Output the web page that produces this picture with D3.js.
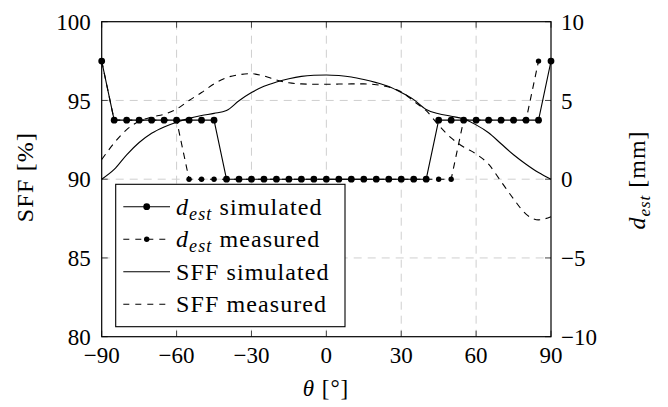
<!DOCTYPE html>
<html>
<head>
<meta charset="utf-8">
<script src="https://cdn.jsdelivr.net/npm/d3@7"></script>
<style>
body { margin: 0; background: #fff; }
svg text { font-family: 'Liberation Serif', 'Times New Roman', serif; fill: #000; }
</style>
</head>
<body>
<svg id="chart" width="668" height="407"></svg>
<script>
// data
var theta = [-90, -85, -80, -75, -70, -65, -60, -55, -50, -45, -40, -35, -30, -25, -20, -15, -10, -5, 0,
	5, 10, 15, 20, 25, 30, 35, 40, 45, 50, 55, 60, 65, 70, 75, 80, 85, 90];

var dSim = [7.5, 3.75, 3.75, 3.75, 3.75, 3.75, 3.75, 3.75, 3.75, 3.75,
	0, 0, 0, 0, 0, 0, 0, 0, 0, 0, 0, 0, 0, 0, 0, 0, 0,
	3.75, 3.75, 3.75, 3.75, 3.75, 3.75, 3.75, 3.75, 3.75, 7.5];

var thetaMeas = [-90, -85, -80, -75, -70, -65, -60, -55, -50, -45, -40, -35, -30, -25, -20, -15, -10, -5, 0,
	5, 10, 15, 20, 25, 30, 35, 40, 45, 50, 55, 60, 65, 70, 75, 80, 85];

var dMeas = [7.5, 3.75, 3.75, 3.75, 3.75, 3.75, 3.75,
	0, 0, 0, 0, 0, 0, 0, 0, 0, 0, 0, 0, 0, 0, 0, 0, 0, 0, 0, 0, 0, 0,
	3.75, 3.75, 3.75, 3.75, 3.75, 3.75, 7.5];

var sffSim = [90.0, 90.62, 91.55, 92.33, 92.92, 93.32, 93.62, 93.86, 94.04, 94.18, 94.36,
	94.98, 95.5, 95.9, 96.17, 96.38, 96.53, 96.6, 96.62, 96.58, 96.49, 96.33, 96.13, 95.88,
	95.5, 95.05, 94.42, 94.15, 94.0, 93.82, 93.45, 92.95, 92.25, 91.55, 90.95, 90.42, 90.0];

var sffMeas = [91.25, 92.3, 93.15, 93.68, 93.95, 94.12, 94.45, 95.0, 95.5, 96.05, 96.45,
	96.63, 96.7, 96.55, 96.3, 96.12, 96.05, 96.03, 96.03, 96.04, 96.05, 96.05, 96.0, 95.85,
	95.55, 94.95, 94.35, 93.42, 92.62, 92.05, 91.6, 90.95, 89.85, 88.75, 87.78, 87.42, 87.62];

var xTicks = [-90, -60, -30, 0, 30, 60, 90];
var sffTicks = [80, 85, 90, 95, 100];
var dTicks = [-10, -5, 0, 5, 10];

var legendLabels = ['simulated', 'measured', 'SFF simulated', 'SFF measured'];

var svg = d3.select('svg#chart');

var plotL = 101.7, plotR = 551, plotT = 21.7, plotB = 336.7;

var xScale = d3.scaleLinear().domain([-90, 90]).range([plotL, plotR]);
var yScale = d3.scaleLinear().domain([80, 100]).range([plotB, plotT]);
var dScale = d3.scaleLinear().domain([-10, 10]).range([plotB, plotT]);

function fmt(v) {
	return v < 0 ? '\u2212' + Math.abs(v) : '' + v;
}

// grid
var grid = svg.append('g')
	.style('stroke', '#cfcfcf')
	.style('stroke-width', 1)
	.style('stroke-dasharray', '8,6');

grid.selectAll('line.gx')
	.data(xTicks.slice(1, -1))
	.enter()
	.append('line')
	.attr('class', 'gx')
	.attr('x1', function (d) { return xScale(d); })
	.attr('x2', function (d) { return xScale(d); })
	.attr('y1', plotT)
	.attr('y2', plotB);

grid.selectAll('line.gy')
	.data(sffTicks.slice(1, -1))
	.enter()
	.append('line')
	.attr('class', 'gy')
	.attr('x1', plotL)
	.attr('x2', plotR)
	.attr('y1', function (d) { return yScale(d); })
	.attr('y2', function (d) { return yScale(d); });

// ticks (inward, all four sides)
var ticks = svg.append('g')
	.style('stroke', '#444')
	.style('stroke-width', 1);

xTicks.forEach(function (t) {
	ticks.append('line')
		.attr('x1', xScale(t)).attr('x2', xScale(t))
		.attr('y1', plotB).attr('y2', plotB - 6);
	ticks.append('line')
		.attr('x1', xScale(t)).attr('x2', xScale(t))
		.attr('y1', plotT).attr('y2', plotT + 6);
});

sffTicks.forEach(function (t) {
	ticks.append('line')
		.attr('x1', plotL).attr('x2', plotL + 6)
		.attr('y1', yScale(t)).attr('y2', yScale(t));
});

dTicks.forEach(function (t) {
	ticks.append('line')
		.attr('x1', plotR).attr('x2', plotR - 6)
		.attr('y1', dScale(t)).attr('y2', dScale(t));
});

// curves
var sffLine = d3.line()
	.x(function (d, i) { return xScale(theta[i]); })
	.y(function (d) { return yScale(d); })
	.curve(d3.curveMonotoneX);

svg.append('path')
	.datum(sffSim)
	.attr('d', sffLine)
	.style('fill', 'none')
	.style('stroke', '#000')
	.style('stroke-width', 1.1);

svg.append('path')
	.datum(sffMeas)
	.attr('d', sffLine)
	.style('fill', 'none')
	.style('stroke', '#000')
	.style('stroke-width', 1.1)
	.style('stroke-dasharray', '6.5,5.5');

var dLineSim = d3.line()
	.x(function (d, i) { return xScale(theta[i]); })
	.y(function (d) { return dScale(d); });

var dLineMeas = d3.line()
	.x(function (d, i) { return xScale(thetaMeas[i]); })
	.y(function (d) { return dScale(d); });

svg.append('path')
	.datum(dSim)
	.attr('d', dLineSim)
	.style('fill', 'none')
	.style('stroke', '#000')
	.style('stroke-width', 1.1);

svg.selectAll('circle.sim')
	.data(dSim)
	.enter()
	.append('circle')
	.attr('class', 'sim')
	.attr('cx', function (d, i) { return xScale(theta[i]); })
	.attr('cy', function (d) { return dScale(d); })
	.attr('r', 3.4)
	.style('fill', '#000');

svg.append('path')
	.datum(dMeas)
	.attr('d', dLineMeas)
	.style('fill', 'none')
	.style('stroke', '#000')
	.style('stroke-width', 1.1)
	.style('stroke-dasharray', '6.5,5.5');

svg.selectAll('circle.meas')
	.data(dMeas)
	.enter()
	.append('circle')
	.attr('class', 'meas')
	.attr('cx', function (d, i) { return xScale(thetaMeas[i]); })
	.attr('cy', function (d) { return dScale(d); })
	.attr('r', 2.7)
	.style('fill', '#000');

// frame
svg.append('rect')
	.attr('x', plotL)
	.attr('y', plotT)
	.attr('width', plotR - plotL)
	.attr('height', plotB - plotT)
	.style('fill', 'none')
	.style('stroke', '#000')
	.style('stroke-width', 1.2);

// tick labels
svg.selectAll('text.xt')
	.data(xTicks)
	.enter()
	.append('text')
	.attr('class', 'xt')
	.attr('x', function (d) { return xScale(d); })
	.attr('y', plotB + 26)
	.style('text-anchor', 'middle')
	.style('font-size', '23px')
	.text(fmt);

svg.selectAll('text.yl')
	.data(sffTicks)
	.enter()
	.append('text')
	.attr('class', 'yl')
	.attr('x', plotL - 11)
	.attr('y', function (d) { return yScale(d); })
	.attr('dy', '0.35em')
	.style('text-anchor', 'end')
	.style('font-size', '23px')
	.text(fmt);

svg.selectAll('text.yr')
	.data(dTicks)
	.enter()
	.append('text')
	.attr('class', 'yr')
	.attr('x', plotR + 10)
	.attr('y', function (d) { return dScale(d); })
	.attr('dy', '0.35em')
	.style('text-anchor', 'start')
	.style('font-size', '23px')
	.text(fmt);

// axis labels
var xl = svg.append('text')
	.attr('x', 326)
	.attr('y', 396)
	.style('text-anchor', 'middle')
	.style('font-size', '23px')
	.style('letter-spacing', '1px');
xl.append('tspan').style('font-style', 'italic').text('\u03b8');
xl.append('tspan').text('  [\u00b0]');

svg.append('text')
	.attr('transform', 'translate(33,177) rotate(-90)')
	.style('text-anchor', 'middle')
	.style('font-size', '24px')
	.style('letter-spacing', '1.2px')
	.text('SFF [%]');

var rl = svg.append('text')
	.attr('transform', 'translate(645,180) rotate(-90)')
	.style('text-anchor', 'middle')
	.style('font-size', '24px')
	.style('letter-spacing', '1px');
rl.append('tspan').style('font-style', 'italic').text('d');
rl.append('tspan').style('font-style', 'italic').style('font-size', '17px').attr('dy', 5).text('est');
rl.append('tspan').attr('dy', -5).text(' [mm]');

// legend
var legend = svg.append('g');

legend.append('rect')
	.attr('x', 115.7)
	.attr('y', 184.3)
	.attr('width', 229.3)
	.attr('height', 142.4)
	.style('fill', '#fff')
	.style('stroke', '#000')
	.style('stroke-width', 1.1);

var rows = legend.selectAll('g.row')
	.data(legendLabels)
	.enter()
	.append('g')
	.attr('class', 'row')
	.attr('transform', function (d, i) {
		return 'translate(0,' + (206.7 + i * 32.5) + ')';
	});

rows.append('line')
	.attr('x1', 123.3)
	.attr('x2', 170)
	.attr('y1', 0)
	.attr('y2', 0)
	.style('stroke', '#000')
	.style('stroke-width', 1.1)
	.style('stroke-dasharray', function (d, i) {
		return i % 2 === 1 ? '6,6' : null;
	});

rows.filter(function (d, i) { return i < 2; })
	.append('circle')
	.attr('cx', 146.7)
	.attr('cy', 0)
	.attr('r', function (d, i) { return i === 0 ? 3.4 : 2.7; })
	.style('fill', '#000');

var labels = rows.append('text')
	.attr('x', 176)
	.attr('y', 0)
	.attr('dy', '0.33em')
	.style('font-size', '24px')
	.style('letter-spacing', '1.1px');

labels.each(function (d, i) {
	var t = d3.select(this);
	if (i < 2) {
		t.append('tspan').style('font-style', 'italic').text('d');
		t.append('tspan').style('font-style', 'italic').style('font-size', '18px').attr('dy', 5).text('est');
		t.append('tspan').attr('dy', -5).text(' ' + d);
	} else {
		t.text(d);
	}
});
</script>
</body>
</html>
